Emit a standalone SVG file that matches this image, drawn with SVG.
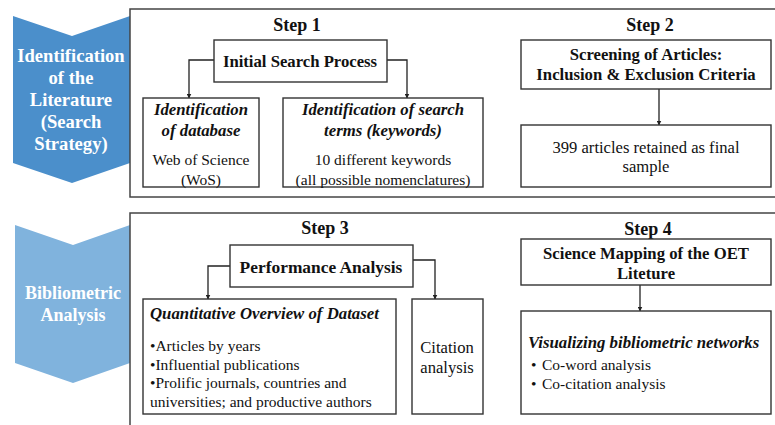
<svg xmlns="http://www.w3.org/2000/svg" width="775" height="425" viewBox="0 0 775 425" font-family="'Liberation Serif', 'DejaVu Serif', serif">
<defs>
<marker id="ah" viewBox="0 0 10 10" refX="9" refY="5" markerWidth="5" markerHeight="5" orient="auto" markerUnits="userSpaceOnUse"><path d="M0,0 L10,5 L0,10 Z" fill="#222"/></marker>
<style>
text{font-family:'Liberation Serif','DejaVu Serif',serif;fill:#111}
.frame{fill:#fff;stroke:#444;stroke-width:1.5}
.box{fill:#fff;stroke:#333;stroke-width:1.4}
.c{text-anchor:middle}
.step{font-size:18px;font-weight:bold}
.h{font-size:16.7px;font-weight:bold}
.hi{font-size:16.8px;font-weight:bold;font-style:italic}
.b{font-size:15.5px}
.bl{font-size:16.6px}
.chev{font-size:18.6px;font-weight:bold;fill:#fff;text-anchor:middle}
.conn{fill:none;stroke:#222;stroke-width:1.3;marker-end:url(#ah)}
</style>
</defs>
<rect width="775" height="425" fill="#fff"/>

<g id="sec1">
<path d="M13,16 L72,36 L130,16 L130,163 L72,183 L13,163 Z" fill="#4B8FCB"/>
<text class="chev" x="71" y="62">Identification</text>
<text class="chev" x="71" y="84">of the</text>
<text class="chev" x="71" y="106">Literature</text>
<text class="chev" x="71" y="128">(Search</text>
<text class="chev" x="71" y="150">Strategy)</text>
<rect class="frame" x="130" y="9" width="660" height="188"/>
<text class="step c" x="297" y="31">Step 1</text>
<text class="step c" x="650" y="31">Step 2</text>
</g>

<g id="sec2">
<path d="M15,225 L73,245 L130,225 L130,363 L73,383 L15,363 Z" fill="#80B3DD"/>
<text class="chev" x="73" y="299" style="font-size:18px">Bibliometric</text>
<text class="chev" x="73" y="321" style="font-size:18px">Analysis</text>
<rect class="frame" x="130" y="213" width="660" height="230"/>
<text class="step c" x="325" y="234">Step 3</text>
<text class="step c" x="648" y="235">Step 4</text>
</g>

<g id="connectors">
<path class="conn" d="M214,60 H189 V98"/>
<path class="conn" d="M387,60 H407 V98"/>
<path class="conn" d="M659,89 V125"/>
<path class="conn" d="M230,266 H208 V299"/>
<path class="conn" d="M413,260 H435 V299"/>
<path class="conn" d="M640,285 V311"/>
</g>

<g id="initial">
<rect class="box" x="214" y="40" width="173" height="42"/>
<text class="h c" x="300" y="67">Initial Search Process</text>
</g>
<g id="database">
<rect class="box" x="143" y="98" width="116" height="89"/>
<text class="hi c" x="201" y="115">Identification</text>
<text class="hi c" x="201" y="136">of database</text>
<text class="b c" x="201" y="165">Web of Science</text>
<text class="b c" x="201" y="185">(WoS)</text>
</g>
<g id="terms">
<rect class="box" x="283" y="98" width="200" height="89"/>
<text class="hi c" x="383" y="115">Identification of search</text>
<text class="hi c" x="383" y="136">terms (keywords)</text>
<text class="b c" x="383" y="165">10 different keywords</text>
<text class="b c" x="383" y="185">(all possible nomenclatures)</text>
</g>
<g id="screening">
<rect class="box" x="521" y="40" width="250" height="49"/>
<text class="h c" x="646" y="60">Screening of Articles:</text>
<text class="h c" x="646" y="80">Inclusion &amp; Exclusion Criteria</text>
</g>
<g id="retained">
<rect class="box" x="521" y="125" width="250" height="62"/>
<text class="bl c" x="646" y="153">399 articles retained as final</text>
<text class="bl c" x="646" y="172">sample</text>
</g>
<g id="performance">
<rect class="box" x="230" y="245" width="183" height="42"/>
<text class="h c" x="321" y="273" style="font-size:17.4px">Performance Analysis</text>
</g>
<g id="quantitative">
<rect class="box" x="143" y="299" width="253" height="115"/>
<text class="hi" x="150" y="319">Quantitative Overview of Dataset</text>
<text class="b" x="150" y="351">•Articles by years</text>
<text class="b" x="150" y="370">•Influential publications</text>
<text class="b" x="150" y="388">•Prolific journals, countries and</text>
<text class="b" x="150" y="407">universities; and productive authors</text>
</g>
<g id="citation">
<rect class="box" x="412" y="299" width="71" height="115"/>
<text class="bl c" x="447" y="353">Citation</text>
<text class="bl c" x="447" y="373">analysis</text>
</g>
<g id="mapping">
<rect class="box" x="521" y="239" width="250" height="46"/>
<text class="h c" x="646" y="259">Science Mapping of the OET</text>
<text class="h c" x="646" y="279">Liteture</text>
</g>
<g id="visualizing">
<rect class="box" x="521" y="311" width="250" height="103"/>
<text class="hi" x="528" y="348">Visualizing bibliometric networks</text>
<text class="b" x="531" y="370">•</text>
<text class="b" x="542" y="370">Co-word analysis</text>
<text class="b" x="531" y="389">•</text>
<text class="b" x="542" y="389">Co-citation analysis</text>
</g>
</svg>
